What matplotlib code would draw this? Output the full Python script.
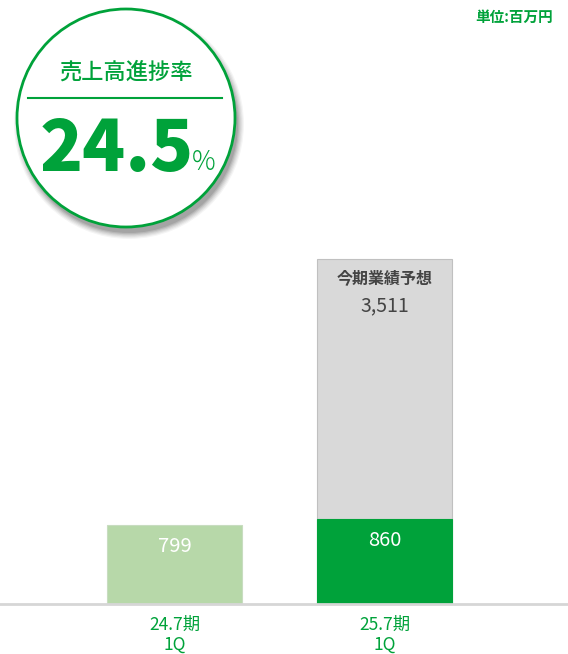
import matplotlib
matplotlib.use("Agg")
import matplotlib.pyplot as plt
from matplotlib.patches import Circle

plt.rcParams['font.family'] = ['Noto Sans CJK JP', 'DejaVu Sans']

categories = ["24.7期\n1Q", "25.7期\n1Q"]
actual_values = [799, 860]
forecast_label = "今期業績予想"
forecast_value = 3511
progress_rate = 24.5
unit_label = "単位:百万円"
badge_title = "売上高進捗率"

GREEN = "#00a23a"
LIGHT_GREEN = "#b7d8a9"
GRAY = "#d9d9d9"
GRAY_EDGE = "#c0c0c0"

W, H = 568, 654
fig = plt.figure(figsize=(W / 100, H / 100), dpi=100)

base_px = 604
ax = fig.add_axes([0, (H - base_px) / H, 1, base_px / H])
px_per_unit = 0.0983
ax.set_ylim(0, base_px / px_per_unit)
spacing = 210
c0 = 174.5
ax.set_xlim(-c0 / spacing, (W - c0) / spacing)
xs = list(range(len(categories)))
bw = 135 / spacing

ax.bar(xs[1], forecast_value, width=bw, color=GRAY, edgecolor=GRAY_EDGE, linewidth=0.8, zorder=1)
ax.bar(xs[0], actual_values[0], width=bw, color=LIGHT_GREEN, edgecolor="#c8dcc0", linewidth=0.8, zorder=2)
ax.bar(xs[1], actual_values[1], width=bw, color=GREEN, edgecolor=GREEN, linewidth=0.8, zorder=2)

ax.axis('off')
ax.axhline(0, color="#d6d6d6", linewidth=2, zorder=3, clip_on=False)

for x, v in zip(xs, actual_values):
    ax.annotate(f"{v:,}", xy=(x, v), xytext=(0, -21), textcoords="offset pixels",
                ha="center", va="center", color="white", fontsize=14.5, zorder=4)
ax.annotate(forecast_label, xy=(xs[1], forecast_value), xytext=(0, -19), textcoords="offset pixels",
            ha="center", va="center", color="#444444", fontsize=11.5, fontweight="bold", zorder=4)
ax.annotate(f"{forecast_value:,}", xy=(xs[1], forecast_value), xytext=(0, -47), textcoords="offset pixels",
            ha="center", va="center", color="#444444", fontsize=14, zorder=4)

for x, c in zip(xs, categories):
    ax.annotate(c, xy=(x, 0), xytext=(0, -31), textcoords="offset pixels",
                ha="center", va="center", color=GREEN, fontsize=12.5, linespacing=1.15,
                annotation_clip=False)

ov = fig.add_axes([0, 0, 1, 1])
ov.set_xlim(0, W)
ov.set_ylim(H, 0)
ov.axis('off')
ov.patch.set_alpha(0)

ov.text(553, 17, unit_label, ha="right", va="center", color=GREEN, fontsize=10.5, fontweight="bold")

cx, cy, r = 126, 118, 109
for i, a in enumerate([0.04, 0.05, 0.06, 0.07, 0.09, 0.1]):
    ov.add_patch(Circle((cx + 3, cy + 6), r + 6 - i * 1.2, facecolor="black", alpha=a, edgecolor="none", zorder=1))
ov.add_patch(Circle((cx, cy), r, facecolor="white", edgecolor=GREEN, linewidth=2, zorder=2))
ov.text(cx, 72, badge_title, ha="center", va="center", color=GREEN, fontsize=16, fontweight="medium", zorder=3)
ov.plot([28, 222], [98, 98], color=GREEN, linewidth=1.5, zorder=3)
ov.text(117, 151, f"{progress_rate}", ha="center", va="center", color=GREEN, fontsize=51,
        fontweight="heavy", zorder=3)
ov.text(204, 162, "%", ha="center", va="center", color=GREEN, fontsize=19, fontweight="light", zorder=3)

fig.savefig("out.png", dpi=100)
